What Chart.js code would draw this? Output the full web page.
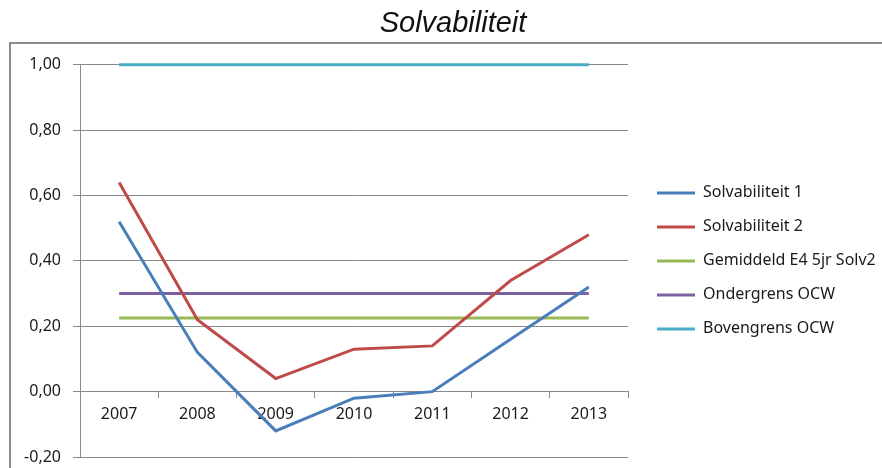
<!DOCTYPE html>
<html>
<head>
<meta charset="utf-8">
<script src="https://cdn.jsdelivr.net/npm/chart.js@4.4.0/dist/chart.umd.min.js"></script>
<style>
  html, body { margin: 0; padding: 0; background: #fff; overflow: hidden; }
  #wrap { position: relative; width: 882px; height: 468px; }
  #frame {
    position: absolute; left: 9px; top: 42px; width: 900px; height: 500px;
    border: 2px solid #8c8c8c; box-sizing: border-box;
  }
  canvas { position: absolute; left: 0; top: 0; }
</style>
</head>
<body>
<div id="wrap">
  <div id="frame"></div>
  <canvas id="chart" width="882" height="468"></canvas>
</div>
<script>
const years = ["2007", "2008", "2009", "2010", "2011", "2012", "2013"];
const solv1 = [0.52, 0.12, -0.12, -0.02, 0.0, 0.16, 0.32];
const solv2 = [0.64, 0.22, 0.04, 0.13, 0.14, 0.34, 0.48];
const gemiddeld = [0.225, 0.225, 0.225, 0.225, 0.225, 0.225, 0.225];
const ondergrens = [0.3, 0.3, 0.3, 0.3, 0.3, 0.3, 0.3];
const bovengrens = [1.0, 1.0, 1.0, 1.0, 1.0, 1.0, 1.0];

const font = "'Noto Sans', sans-serif";
const gridColor = "#8a8a8a";

function line(label, data, color) {
  return {
    label: label,
    data: data,
    borderColor: color,
    backgroundColor: color,
    borderWidth: 3,
    pointRadius: 0,
    tension: 0,
    clip: false,
  };
}

// fixed legend width, and the legend drawn 11px further right
const legendFix = {
  id: "legendFix",
  beforeLayout(chart) {
    const lg = chart.legend;
    if (lg && !lg._fixed) {
      const fit = lg.fit.bind(lg);
      lg.fit = function () {
        fit();
        this.width = 254;
      };
      lg._fixed = true;
    }
  },
  afterLayout(chart) {
    const lg = chart.legend;
    lg.left += 11;
    lg.right += 11;
  },
};

new Chart(document.getElementById("chart"), {
  type: "line",
  data: {
    labels: years,
    datasets: [
      line("Solvabiliteit 1", solv1, "#4a7ebb"),
      line("Solvabiliteit 2", solv2, "#be4b48"),
      line("Gemiddeld E4 5jr Solv2", gemiddeld, "#98b954"),
      line("Ondergrens OCW", ondergrens, "#7d60a0"),
      line("Bovengrens OCW", bovengrens, "#4bacc6"),
    ],
  },
  plugins: [legendFix],
  options: {
    responsive: false,
    animation: false,
    layout: { padding: { left: 24, right: 0, top: 0, bottom: 11 } },
    scales: {
      x: {
        position: { y: 0 },
        offset: true,
        grid: {
          offset: true,
          drawOnChartArea: false,
          drawTicks: true,
          tickLength: 6,
          color: gridColor,
        },
        border: { display: true, color: gridColor, width: 1 },
        ticks: { color: "#1a1a1a", font: { family: font, size: 16 }, padding: 7 },
      },
      y: {
        min: -0.2,
        max: 1.0,
        afterFit(scale) {
          scale.width = 56;
          scale.paddingTop = 0;
          scale.paddingBottom = 0;
        },
        grid: { color: gridColor, tickLength: 7, lineWidth: 1 },
        border: { display: true, color: gridColor, width: 1 },
        ticks: {
          stepSize: 0.2,
          color: "#1a1a1a",
          padding: 12,
          font: { family: font, size: 16 },
          callback: (v) => (Math.abs(v) < 1e-9 ? 0 : v).toFixed(2).replace(".", ","),
        },
      },
    },
    plugins: {
      title: {
        display: true,
        text: "Solvabiliteit",
        color: "#111",
        font: { family: "'Liberation Sans', Arial, sans-serif", size: 29, style: "italic", weight: "normal" },
        padding: { top: 7, bottom: 23 },
      },
      legend: {
        position: "right",
        fullSize: false,
        labels: {
          color: "#1a1a1a",
          font: { family: font, size: 16 },
          boxWidth: 38,
          boxHeight: 3,
          padding: 18,
          generateLabels(chart) {
            const items = Chart.defaults.plugins.legend.labels.generateLabels(chart);
            items.forEach((it) => { it.lineWidth = 0; it.fillStyle = it.strokeStyle; });
            return items;
          },
        },
      },
      tooltip: { enabled: false },
    },
  },
});
</script>
</body>
</html>
